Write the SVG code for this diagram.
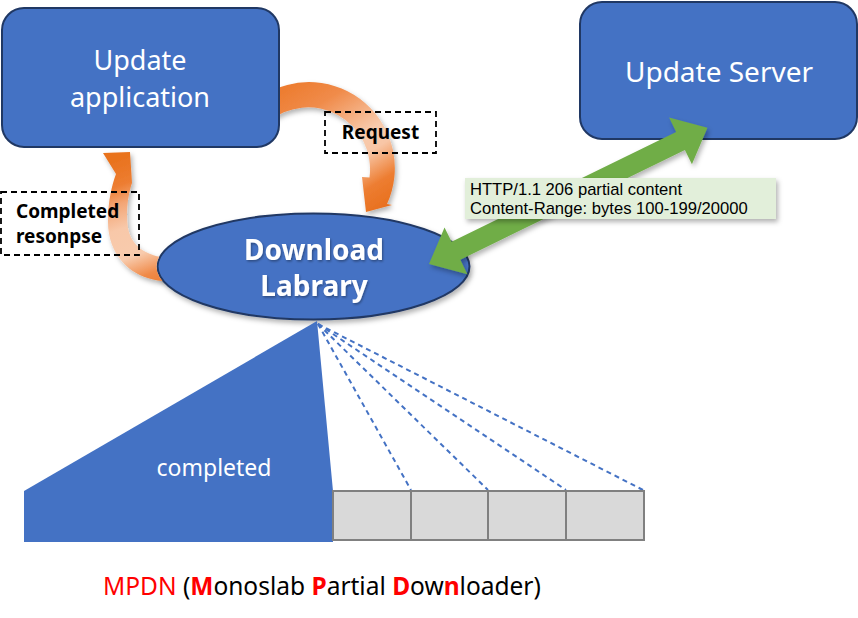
<svg xmlns="http://www.w3.org/2000/svg" width="858" height="618" viewBox="0 0 858 618">
<style>
.box{fill:#4472C4;stroke:#203864;stroke-width:2}
.wt{fill:#FFFFFF;font-family:"Noto Sans","Open Sans",sans-serif;text-anchor:middle}
.lbl{fill:#000000;font-family:"Noto Sans","Open Sans",sans-serif;font-weight:bold;font-size:19px}
.dash{fill:none;stroke:#000000;stroke-width:1.8;stroke-dasharray:6 4}
.http{fill:#000000;font-family:"Liberation Sans",Arial,sans-serif;font-size:16.6px}
.chunk{fill:#D9D9D9;stroke:#808080;stroke-width:2}
.split{stroke:#4472C4;stroke-width:2;stroke-dasharray:5 4;fill:none}
.mp{font-family:"Noto Sans","Open Sans",sans-serif;font-size:24.5px;fill:#000000}
.red{fill:#FF0000}
</style>
<defs>
<filter id="sh" x="-20%" y="-20%" width="140%" height="150%">
<feDropShadow dx="2" dy="3" stdDeviation="2.5" flood-color="#000" flood-opacity="0.3"/>
</filter>
<filter id="tsh" x="-10%" y="-10%" width="120%" height="130%">
<feDropShadow dx="1" dy="1.5" stdDeviation="1" flood-color="#000" flood-opacity="0.35"/>
</filter>
<linearGradient id="g1" gradientUnits="userSpaceOnUse" x1="300" y1="80" x2="380" y2="210">
<stop offset="0" stop-color="#ED7D31"/>
<stop offset="0.2" stop-color="#F08B4A"/>
<stop offset="0.52" stop-color="#F8CBAD"/>
<stop offset="0.64" stop-color="#F8C6A6"/>
<stop offset="0.84" stop-color="#ED7D31"/>
<stop offset="1" stop-color="#E8701F"/>
</linearGradient>
<linearGradient id="g2" gradientUnits="userSpaceOnUse" x1="165" y1="282" x2="120" y2="160">
<stop offset="0" stop-color="#EE7F36"/>
<stop offset="0.1" stop-color="#F08A48"/>
<stop offset="0.27" stop-color="#F8CBAD"/>
<stop offset="0.5" stop-color="#F8C8A9"/>
<stop offset="0.68" stop-color="#F3A676"/>
<stop offset="0.82" stop-color="#ED7D31"/>
<stop offset="1" stop-color="#E9731F"/>
</linearGradient>
<mask id="mBox" maskUnits="userSpaceOnUse" x="0" y="0" width="858" height="618">
<rect x="0" y="0" width="858" height="618" fill="#fff"/>
<rect x="1" y="7" width="279" height="141" rx="22" fill="#000"/>
</mask>
<mask id="mEll" maskUnits="userSpaceOnUse" x="0" y="0" width="858" height="618">
<rect x="0" y="0" width="858" height="618" fill="#fff"/>
<ellipse cx="313.5" cy="266.5" rx="157" ry="54" fill="#000"/>
</mask>
</defs>
<rect width="858" height="618" fill="#FFFFFF"/>

<g id="node-update-application">
<rect class="box" x="2" y="8" width="277" height="139" rx="22"/>
<text class="wt" x="140" y="69.8" font-size="27">Update</text>
<text class="wt" x="140" y="106.6" font-size="27">application</text>
</g>

<g id="node-update-server">
<rect class="box" x="580" y="2" width="277" height="137" rx="22"/>
<text class="wt" x="719" y="82" font-size="28">Update Server</text>
</g>

<g id="node-download-library">
<ellipse cx="313.5" cy="266.5" rx="156" ry="53" fill="#4472C4" stroke="#203864" stroke-width="2" filter="url(#sh)"/>
<g filter="url(#tsh)">
<text class="wt" x="314" y="260" font-size="28" font-weight="bold">Download</text>
<text class="wt" x="314" y="296" font-size="28" font-weight="bold">Labrary</text>
</g>
</g>

<g id="connectors">
<path id="arrow-request" d="M 262 96 A 86 86 0 0 1 387 204 L 392 205 L 366 212 L 362 177 L 369.5 177.5 A 62 62 0 0 0 268 122 Z" fill="url(#g1)" mask="url(#mBox)" filter="url(#sh)"/>
<path id="arrow-response" d="M 172 281 C 135 283 108 258 108 222 C 108 200 112 185 116 174 L 103 153 L 130 152 L 132 183 L 131 186 C 127 200 126 215 128 228 C 131 245 145 256 168 258 Z" fill="url(#g2)" mask="url(#mEll)" filter="url(#sh)"/>
<g id="arrow-http" filter="url(#sh)">
<polygon transform="translate(429 264) rotate(-26.07)" points="0,0 30,-26 30,-10 280,-10 280,-26 310,0 280,26 280,10 30,10 30,26" fill="#70AD47"/>
</g>
<line class="split" x1="318" y1="324" x2="411" y2="490"/>
<line class="split" x1="318" y1="324" x2="488" y2="490"/>
<line class="split" x1="318" y1="324" x2="566" y2="490"/>
<line class="split" x1="318" y1="324" x2="643" y2="490"/>
</g>

<g id="node-request-label">
<rect class="dash" x="325" y="112" width="111" height="41"/>
<text class="lbl" x="380.5" y="139" text-anchor="middle">Request</text>
</g>

<g id="node-completed-label">
<rect class="dash" x="1" y="192" width="138" height="63"/>
<text class="lbl" x="16" y="218">Completed</text>
<text class="lbl" x="16" y="243">resonpse</text>
</g>

<g id="node-http-label">
<rect x="465" y="178" width="311" height="41" fill="#E2EFDA" filter="url(#sh)"/>
<text class="http" x="470" y="195">HTTP/1.1 206 partial content</text>
<text class="http" x="470" y="214">Content-Range: bytes 100-199/20000</text>
</g>

<g id="node-completed-part">
<polygon points="317,321 24,491 24,542 333,542 333,491" fill="#4472C4"/>
<text class="wt" x="214" y="476" font-size="23">completed</text>
</g>

<g id="node-chunks">
<rect class="chunk" x="333" y="491" width="78" height="49"/>
<rect class="chunk" x="411" y="491" width="77" height="49"/>
<rect class="chunk" x="488" y="491" width="78" height="49"/>
<rect class="chunk" x="566" y="491" width="78" height="49"/>
</g>

<g id="caption">
<text class="mp" x="103" y="595"><tspan class="red">MPDN</tspan> (<tspan class="red" font-weight="bold">M</tspan>onoslab <tspan class="red" font-weight="bold">P</tspan>artial <tspan class="red" font-weight="bold">D</tspan>ow<tspan class="red" font-weight="bold">n</tspan>loader)</text>
</g>
</svg>
